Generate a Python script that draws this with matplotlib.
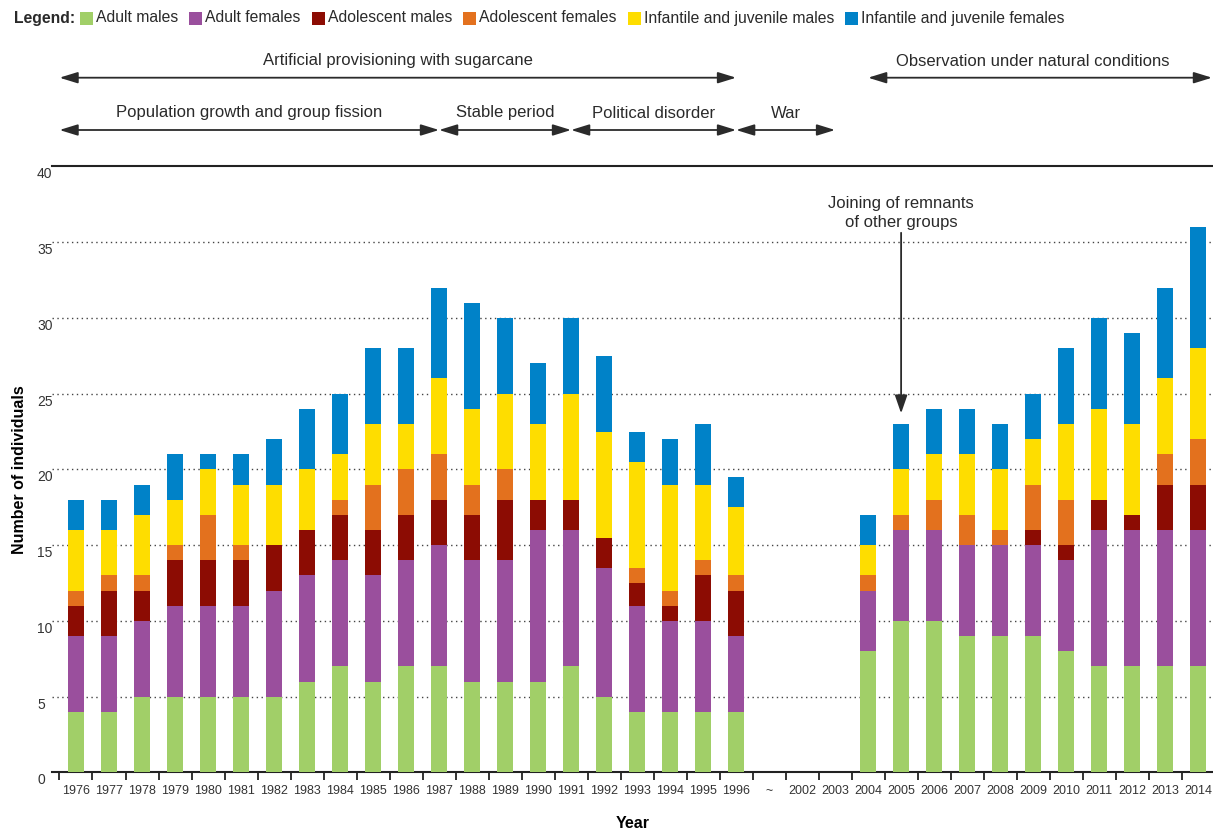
import matplotlib
matplotlib.use("Agg")
import matplotlib.pyplot as plt
import matplotlib.transforms as mtransforms
from matplotlib.patches import Rectangle
import numpy as np

plt.rcParams['font.family'] = ['Liberation Sans', 'DejaVu Sans']
plt.rcParams['text.color'] = '#2a2a2a'

# group composition per year (bars stack in this order)
years = ['1976', '1977', '1978', '1979', '1980', '1981', '1982', '1983', '1984',
         '1985', '1986', '1987', '1988', '1989', '1990', '1991', '1992', '1993',
         '1994', '1995', '1996', '~', '2002', '2003', '2004', '2005', '2006',
         '2007', '2008', '2009', '2010', '2011', '2012', '2013', '2014']

adult_males = [4, 4, 5, 5, 5, 5, 5, 6, 7, 6, 7, 7, 6, 6, 6, 7, 5, 4, 4, 4, 4,
               0, 0, 0, 8, 10, 10, 9, 9, 9, 8, 7, 7, 7, 7]
adult_females = [5, 5, 5, 6, 6, 6, 7, 7, 7, 7, 7, 8, 8, 8, 10, 9, 8.5, 7, 6, 6, 5,
                 0, 0, 0, 4, 6, 6, 6, 6, 6, 6, 9, 9, 9, 9]
adolescent_males = [2, 3, 2, 3, 3, 3, 3, 3, 3, 3, 3, 3, 3, 4, 2, 2, 2, 1.5, 1, 3, 3,
                    0, 0, 0, 0, 0, 0, 0, 0, 1, 1, 2, 1, 3, 3]
adolescent_females = [1, 1, 1, 1, 3, 1, 0, 0, 1, 3, 3, 3, 2, 2, 0, 0, 0, 1, 1, 1, 1,
                      0, 0, 0, 1, 1, 2, 2, 1, 3, 3, 0, 0, 2, 3]
infant_males = [4, 3, 4, 3, 3, 4, 4, 4, 3, 4, 3, 5, 5, 5, 5, 7, 7, 7, 7, 5, 4.5,
                0, 0, 0, 2, 3, 3, 4, 4, 3, 5, 6, 6, 5, 6]
infant_females = [2, 2, 2, 3, 1, 2, 3, 4, 4, 5, 5, 6, 7, 5, 4, 5, 5, 2, 3, 4, 2,
                  0, 0, 0, 2, 3, 3, 3, 3, 3, 5, 6, 6, 6, 8]

series = [
    ('Adult males', adult_males, '#a1cf68'),
    ('Adult females', adult_females, '#9a4f9d'),
    ('Adolescent males', adolescent_males, '#8c0c03'),
    ('Adolescent females', adolescent_females, '#e3711e'),
    ('Infantile and juvenile males', infant_males, '#fedd00'),
    ('Infantile and juvenile females', infant_females, '#0082c8'),
]

# periods drawn as double arrows above the plot: (label, start, end, row)
periods = [
    ('Artificial provisioning with sugarcane', -0.5, 20, 0),
    ('Observation under natural conditions', 24, 34.42, 0),
    ('Population growth and group fission', -0.5, 11, 1),
    ('Stable period', 11, 15, 1),
    ('Political disorder', 15, 20, 1),
    ('War', 20, 23, 1),
]

W, H = 1213, 831
fig = plt.figure(figsize=(W / 100, H / 100), dpi=100)
ax = fig.add_axes([52 / W, (H - 772.4) / H, (W - 52) / W, (772.4 - 166.4) / H])

x = np.arange(len(years))
bottom = np.zeros(len(years))
for name, vals, col in series:
    vals = np.array(vals, dtype=float)
    ax.bar(x, vals, width=0.485, bottom=bottom, color=col, linewidth=0, zorder=3)
    bottom += vals

ax.set_xlim(-0.727, 34.45)
ax.set_ylim(0, 40)

# dotted gridlines
for v in range(5, 40, 5):
    ax.axhline(v, color='#444444', lw=1.0, ls=(0, (1, 2.5)), zorder=1)

for s in ['left', 'right']:
    ax.spines[s].set_visible(False)
for s in ['top', 'bottom']:
    ax.spines[s].set_linewidth(1.5)
    ax.spines[s].set_color('#222222')

# y labels sit a little below their gridline
ytrans = mtransforms.offset_copy(ax.get_yaxis_transform(), fig=fig, y=-8, units='dots')
for v in range(0, 41, 5):
    ax.text(-15 / 1161, v, str(v), transform=ytrans, ha='left', va='center',
            fontsize=10, color='#333333', clip_on=False)
ax.tick_params(axis='y', left=False, labelleft=False)

# tick marks between bars, labels under bars
ax.set_xticks(x - 0.5)
ax.set_xticks(x, minor=True)
ax.set_xticklabels(years, minor=True)
ax.tick_params(axis='x', which='major', direction='out', length=6, width=1.3,
               color='#222222', labelbottom=False)
ax.tick_params(axis='x', which='minor', length=0, pad=9, labelsize=9,
               labelcolor='#333333')

ax.set_xlabel('Year', fontsize=11.5, fontweight='bold')
ax.xaxis.set_label_coords(0.5, -0.072)
ax.set_ylabel('Number of individuals', fontsize=11.5, fontweight='bold')
ax.yaxis.set_label_coords(-0.0215, 0.5)

# period arrows
btrans = mtransforms.blended_transform_factory(ax.transData, fig.transFigure)
row_arrow_y = [1 - 77.7 / H, 1 - 130 / H]
row_text_y = [1 - 61 / H, 1 - 113 / H]
arrow_kw = dict(arrowstyle='<|-|>,head_length=1.1,head_width=0.34', lw=1.3,
                color='#2b2b2b', shrinkA=0, shrinkB=0, mutation_scale=10)
for label, x0, x1, row in periods:
    ax.annotate('', xy=(x1, row_arrow_y[row]), xytext=(x0, row_arrow_y[row]),
                xycoords=btrans, textcoords=btrans, annotation_clip=False,
                arrowprops=arrow_kw)
    xc = 29.0 if label.startswith('Observation') else (x0 + x1) / 2
    ax.text(xc, row_text_y[row], label, transform=btrans, ha='center',
            va='center', fontsize=12)

# note on 2005
ax.annotate('Joining of remnants\nof other groups', xy=(25, 23.7), xytext=(25, 35.8),
            ha='center', va='bottom', fontsize=12, linespacing=1.3,
            arrowprops=dict(arrowstyle='-|>,head_length=1.1,head_width=0.38',
                            lw=1.3, color='#2b2b2b', shrinkA=0, shrinkB=0,
                            mutation_scale=10))

# legend row along the top
renderer = fig.canvas.get_renderer()
ly = 1 - 18 / H
t = fig.text(14 / W, ly, 'Legend:', fontsize=11.3, fontweight='bold', va='center')
xpos = 14 + t.get_window_extent(renderer).width + 5
for name, vals, col in series:
    fig.patches.append(Rectangle((xpos / W, ly - 6.5 / H), 13 / W, 13 / H,
                                 transform=fig.transFigure, color=col, lw=0))
    t = fig.text((xpos + 16) / W, ly, name, fontsize=11.3, va='center')
    xpos += 16 + t.get_window_extent(renderer).width + 11

fig.savefig('out.png', dpi=100)
